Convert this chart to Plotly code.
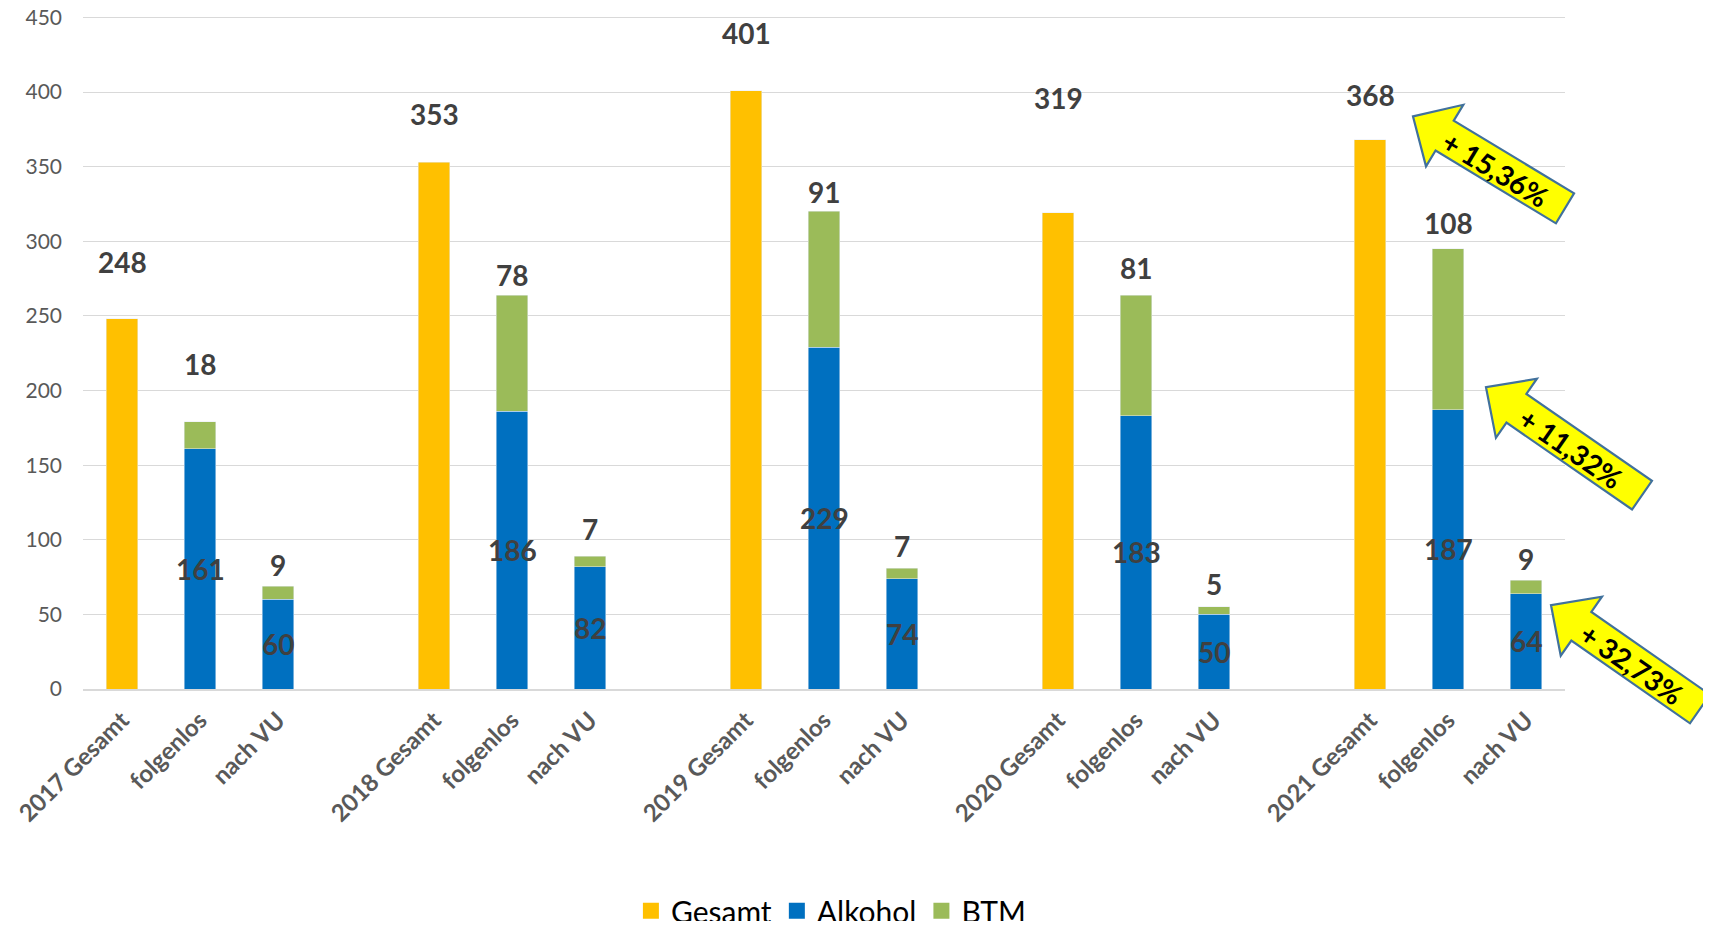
import math

import plotly.graph_objects as go

# --- data -----------------------------------------------------------------
years = ["2017", "2018", "2019", "2020", "2021"]
gesamt = [248, 353, 401, 319, 368]
folgenlos_alkohol = [161, 186, 229, 183, 187]
folgenlos_btm = [18, 78, 91, 81, 108]
nachvu_alkohol = [60, 82, 74, 50, 64]
nachvu_btm = [9, 7, 7, 5, 9]
increase_text = ["+ 15,36%", "+ 11,32%", "+ 32,73%"]

# --- styling ----------------------------------------------------------------
C_GESAMT = "#FFC000"
C_ALK = "#0070C0"
C_BTM = "#9BBB59"
LABEL_COLOR = "#404040"
AXIS_COLOR = "#595959"
GRID = "#D9D9D9"
FONT = "Lato"

# the page body has an 8px margin, so the figure is a little smaller than the window
BODY = 8
W, H = 1711 - 2 * BODY, 929 - 2 * BODY
Y_MAX = 451  # a hair above 450 so the top gridline is drawn
M_L, M_R, M_T, M_B = 75, 138, 7.5, 232
PLOT_W = W - M_L - M_R
PLOT_H = H - M_T - M_B

# label offsets above bar tops (px), hand-tuned like the original
gesamt_shift = [57, 48, 58, 115, 45]
fl_btm_shift = [58, 20, 19, 27, 26]
vu_btm_shift = [21, 27, 22, 23, 21]

# slot layout: each year = Gesamt, folgenlos, nach VU, then an empty slot
x_ges = [4 * i for i in range(len(years))]
x_fl = [4 * i + 1 for i in range(len(years))]
x_vu = [4 * i + 2 for i in range(len(years))]
tickvals = sorted(x_ges + x_fl + x_vu)
ticktext = []
for y in years:
    ticktext += [f"{y} Gesamt", "folgenlos", "nach VU"]

fig = go.Figure()
fig.add_trace(go.Bar(x=x_ges, y=gesamt, marker_color=C_GESAMT, width=0.4,
                     showlegend=False, name="Gesamt"))
fig.add_trace(go.Bar(x=x_fl + x_vu, y=folgenlos_alkohol + nachvu_alkohol,
                     marker_color=C_ALK, width=0.4, showlegend=False, name="Alkohol"))
fig.add_trace(go.Bar(x=x_fl + x_vu, y=folgenlos_btm + nachvu_btm,
                     marker_color=C_BTM, width=0.4, showlegend=False, name="BTM"))

# legend entries (bigger squares than the bar default)
for name, col in [("Gesamt", C_GESAMT), ("Alkohol", C_ALK), ("BTM", C_BTM)]:
    fig.add_trace(go.Scatter(x=[None], y=[None], mode="markers", name=name,
                             marker=dict(symbol="square", size=18, color=col)))

lab_font = dict(family=FONT, size=28, color=LABEL_COLOR, weight="bold")


def label(x, y, text, shift=0):
    fig.add_annotation(x=x, y=y, text=str(text), showarrow=False, yshift=shift,
                       font=lab_font, xanchor="center", yanchor="middle")


for i in range(len(years)):
    label(x_ges[i], gesamt[i], gesamt[i], gesamt_shift[i])
    label(x_fl[i], folgenlos_alkohol[i] / 2, folgenlos_alkohol[i])
    label(x_fl[i], folgenlos_alkohol[i] + folgenlos_btm[i], folgenlos_btm[i], fl_btm_shift[i])
    label(x_vu[i], nachvu_alkohol[i] / 2, nachvu_alkohol[i])
    label(x_vu[i], nachvu_alkohol[i] + nachvu_btm[i], nachvu_btm[i], vu_btm_shift[i])


# --- yellow block arrows (window pixel geometry -> paper coords) -----------
def px2paper(px, py):
    return (px - BODY - M_L) / PLOT_W, 1 - (py - BODY - M_T) / PLOT_H


def block_arrow(tip, tail, text, shaft=35, head=72, head_len=37):
    dx, dy = tail[0] - tip[0], tail[1] - tip[1]
    L = math.hypot(dx, dy)
    ux, uy = dx / L, dy / L          # along shaft, tip -> tail
    nx, ny = -uy, ux                 # normal
    bx, by = tip[0] + ux * head_len, tip[1] + uy * head_len
    pts = [
        tip,
        (bx + nx * head / 2, by + ny * head / 2),
        (bx + nx * shaft / 2, by + ny * shaft / 2),
        (tail[0] + nx * shaft / 2, tail[1] + ny * shaft / 2),
        (tail[0] - nx * shaft / 2, tail[1] - ny * shaft / 2),
        (bx - nx * shaft / 2, by - ny * shaft / 2),
        (bx - nx * head / 2, by - ny * head / 2),
    ]
    pp = [px2paper(*p) for p in pts]
    path = "M " + " L ".join(f"{a:.5f},{b:.5f}" for a, b in pp) + " Z"
    fig.add_shape(type="path", path=path, xref="paper", yref="paper",
                  fillcolor="#FFFF00", line=dict(color="#41719C", width=2.2),
                  layer="above")
    cx, cy = tip[0] + ux * L * 0.55 + nx * 2, tip[1] + uy * L * 0.55 + ny * 2
    tx, ty = px2paper(cx, cy)
    fig.add_annotation(x=tx, y=ty, xref="paper", yref="paper", text=text,
                       showarrow=False, textangle=math.degrees(math.atan2(dy, dx)),
                       font=dict(family=FONT, size=28, color="#000000", weight="bold"),
                       xanchor="center", yanchor="middle")


block_arrow((1413, 116), (1565, 208), increase_text[0])
block_arrow((1486, 387), (1642, 495), increase_text[1])
block_arrow((1551, 605), (1700, 709), increase_text[2])

fig.update_xaxes(
    range=[-0.5, 18.5], tickvals=tickvals, ticktext=ticktext, tickangle=-45,
    tickfont=dict(family=FONT, size=24, color=AXIS_COLOR, weight="bold"),
    showgrid=False, zeroline=False, showline=True, linecolor=GRID, linewidth=1.5,
    ticks="", ticklabelstandoff=6, automargin=False,
)
fig.update_yaxes(
    range=[0, Y_MAX], tick0=0, dtick=50, showgrid=True, gridcolor=GRID, gridwidth=1.3,
    zeroline=False, showline=False, ticks="",
    tickfont=dict(family=FONT, size=21, color=AXIS_COLOR),
    ticklabelstandoff=20, automargin=False, ticklabeloverflow="allow",
)
fig.update_layout(
    width=W, height=H, barmode="stack",
    margin=dict(l=M_L, r=M_R, t=M_T, b=M_B, autoexpand=False),
    plot_bgcolor="white", paper_bgcolor="white",
    legend=dict(orientation="h", x=0.505, xanchor="center", y=-0.3296, yanchor="middle",
                font=dict(family=FONT, size=30, color="#000000"),
                traceorder="normal", itemsizing="trace"),
)

fig.write_html("out.html")
